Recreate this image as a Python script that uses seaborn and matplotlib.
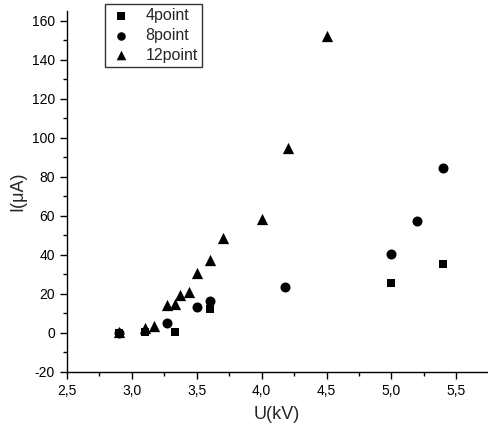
import matplotlib
matplotlib.use("Agg")
import matplotlib.pyplot as plt
import seaborn as sns
import pandas as pd
from matplotlib.ticker import MultipleLocator, FuncFormatter

x_4 = [2.9, 3.1, 3.33, 3.6, 5.0, 5.4]
y_4 = [0.0, 0.3, 0.5, 12.0, 25.5, 35.5]
x_8 = [2.9, 3.27, 3.5, 3.6, 4.18, 5.0, 5.2, 5.4]
y_8 = [0.0, 5.0, 13.5, 16.5, 23.5, 40.5, 57.5, 84.5]
x_12 = [2.9, 3.1, 3.17, 3.27, 3.33, 3.37, 3.44, 3.5, 3.6, 3.7, 4.0, 4.2, 4.5]
y_12 = [0.5, 2.5, 3.5, 14.5, 15.0, 19.5, 21.0, 30.5, 37.5, 48.5, 58.5, 94.5, 152.0]
series = ["4point", "8point", "12point"]

df = pd.concat([
    pd.DataFrame({"U": x_4, "I": y_4, "s": series[0]}),
    pd.DataFrame({"U": x_8, "I": y_8, "s": series[1]}),
    pd.DataFrame({"U": x_12, "I": y_12, "s": series[2]}),
])

sns.set_style("ticks")
plt.rcParams['font.family'] = ['Liberation Sans', 'DejaVu Sans']

fig = plt.figure(figsize=(4.88, 4.32), dpi=100)
ax = fig.add_axes([0.137, 0.139, 0.862, 0.836])

sizes = {"4point": 40, "8point": 52, "12point": 66}
markers = {"4point": "s", "8point": "o", "12point": "^"}
for name in series:
    sub = df[df.s == name]
    sns.scatterplot(data=sub, x="U", y="I", marker=markers[name], s=sizes[name],
                    color="black", edgecolor="black", linewidth=0, ax=ax, label=name,
                    zorder=3)

ax.set_xlim(2.5, 5.74)
ax.set_ylim(-20, 165)
ax.xaxis.set_major_locator(MultipleLocator(0.5))
ax.xaxis.set_minor_locator(MultipleLocator(0.25))
ax.yaxis.set_major_locator(MultipleLocator(20))
ax.yaxis.set_minor_locator(MultipleLocator(10))
ax.xaxis.set_major_formatter(FuncFormatter(lambda v, p: f"{v:.1f}".replace(".", ",")))
ax.yaxis.set_major_formatter(FuncFormatter(lambda v, p: f"{v:.0f}"))
ax.tick_params(which="major", length=5, width=1, direction="out", labelsize=10, colors="black")
ax.tick_params(which="minor", length=3, width=1, direction="out", colors="black")
for side in ["top", "right"]:
    ax.spines[side].set_visible(False)
for side in ["left", "bottom"]:
    ax.spines[side].set_linewidth(1)
    ax.spines[side].set_color("black")

ax.set_xlabel("U(kV)", fontsize=13, labelpad=6)
ax.set_ylabel("I(μA)", fontsize=13, labelpad=4)

leg = ax.legend(loc="upper left", bbox_to_anchor=(0.09, 1.019), borderaxespad=0,
                frameon=True, fancybox=False, edgecolor="black", fontsize=11.5,
                handletextpad=0.7, borderpad=0.25, labelspacing=0.3, handlelength=1.6,
                markerscale=0.85)
leg.get_frame().set_linewidth(1)

fig.savefig("out.png", dpi=100)
